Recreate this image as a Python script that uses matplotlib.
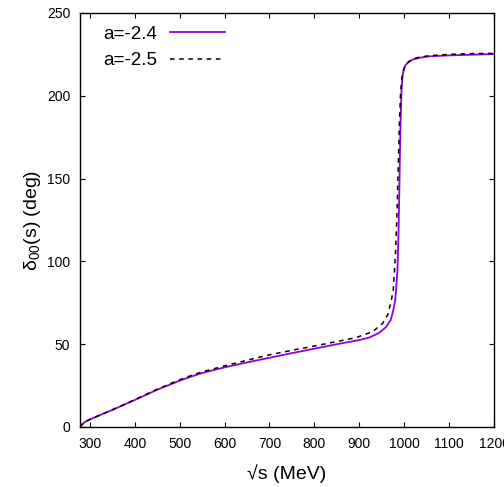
import numpy as np
import matplotlib
matplotlib.use("Agg")
import matplotlib.pyplot as plt

plt.rcParams['font.family'] = ['Liberation Sans', 'DejaVu Sans']
plt.rcParams['mathtext.fontset'] = 'custom'
plt.rcParams['mathtext.rm'] = 'Liberation Sans'

# phase shift delta_00 vs sqrt(s)
E_a24 = [278, 285, 290, 300, 350, 400, 450, 500, 525, 550, 600, 650, 700, 750, 800, 850, 900, 922,
         944, 959, 970, 976, 980, 982, 985, 987, 989, 990.5, 992, 994, 996, 999, 1003, 1010,
         1020, 1035, 1055, 1100, 1150, 1200]
d_a24 = [0, 2.2, 3.2, 4.6, 10.3, 16.3, 22.5, 28.0, 30.4, 32.6, 36.0, 39.0, 41.8, 44.6, 47.3, 50.0, 52.5, 54.0,
         56.8, 60.2, 64.6, 70.7, 76.7, 83, 95, 113, 140, 165, 185, 203, 211, 216, 218.5, 220.5,
         222, 223, 223.8, 224.4, 224.8, 225.2]

E_a25 = [278, 285, 290, 300, 350, 400, 450, 500, 525, 550, 600, 650, 700, 750, 800, 850, 893, 930,
         952, 963, 970, 975.6, 978, 981, 984, 987, 989.5, 992, 995, 999, 1004, 1012,
         1020, 1035, 1055, 1100, 1150, 1200]
d_a25 = [0, 2.2, 3.2, 4.6, 10.4, 16.5, 22.8, 28.5, 31.0, 33.3, 36.9, 40.3, 43.6, 46.3, 48.9, 51.6, 54.0, 57.6,
         62.6, 67.6, 74.7, 82.7, 92.8, 107, 130, 160, 185, 202, 211, 216, 219, 221,
         222.3, 223.4, 224.2, 225.0, 225.5, 225.6]

labels = ["a=-2.4", "a=-2.5"]

fig = plt.figure(figsize=(5.04, 4.87), dpi=100)
ax = fig.add_axes([80/504, 1-427/487, 414/504, 414/487])

ax.plot(E_a24, d_a24, color="#9400D3", lw=1.3, label=labels[0], solid_joinstyle="round")
ax.plot(E_a25, d_a25, color="black", lw=1.1, ls=(0, (3, 3)), label=labels[1])

ax.set_xlim(278, 1200)
ax.set_ylim(0, 250)
ax.set_xticks(np.arange(300, 1201, 100))
ax.set_yticks(np.arange(0, 251, 50))
ax.tick_params(direction="in", top=True, right=True, labelsize=10, length=3.5, pad=7)
for s in ax.spines.values():
    s.set_linewidth(1.0)

ax.set_xlabel("\u221as (MeV)", fontsize=14, labelpad=10)
ax.set_ylabel(r"δ$_{\rm 00}$(s) (deg)", fontsize=14, labelpad=3)

leg = ax.legend(loc="upper left", bbox_to_anchor=(0.015, 1.01), frameon=False, fontsize=13.5,
                markerfirst=False, handlelength=2.9, handletextpad=0.7, labelspacing=0.5)

fig.savefig("out.png", dpi=100)
